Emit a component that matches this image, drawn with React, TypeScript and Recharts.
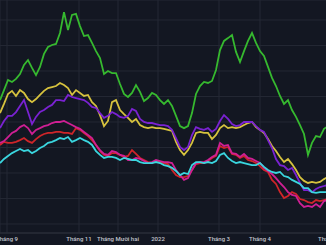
import React from "react";
import { LineChart, Line, XAxis, YAxis, CartesianGrid } from "recharts";

// sample positions (each step ≈ 2.3 trading days), Sept 2021 – May 2022
const monthTicks = [1.75, 19.75, 29.5, 39.5, 54.75, 65, 82.25];
const monthLabels = ["Tháng 9", "Tháng 11", "Tháng Mười hai", "2022", "Tháng 3", "Tháng 4", "Tháng 5"];
const valueTicks = [0, 10, 20, 30, 40, 50, 60, 70, 80];

const green = [48.6, 52.5, 56.5, 55.7, 56.9, 58.8, 62.4, 64.3, 61.2, 58.4, 61.6, 66.7, 69.4, 70.2, 70.6, 74.9, 83.1, 76.1, 82.0, 82.4, 77.6, 73.7, 74.1, 71.0, 67.8, 65.1, 58.8, 60.0, 59.2, 59.2, 54.9, 51.0, 49.8, 51.4, 54.5, 51.8, 48.2, 49.4, 51.4, 50.6, 48.6, 47.1, 48.6, 46.3, 42.4, 38.4, 37.6, 38.4, 43.5, 51.0, 54.1, 55.7, 55.3, 56.1, 60.4, 68.2, 71.8, 72.9, 74.1, 67.5, 63.5, 67.8, 71.8, 74.9, 71.0, 67.8, 65.9, 61.6, 57.3, 54.1, 50.2, 47.1, 48.6, 44.7, 42.0, 38.8, 35.3, 27.1, 31.8, 34.5, 34.1, 37.3, 38.4];
const yellow = [43.5, 47.1, 51.0, 52.2, 50.2, 52.5, 51.4, 49.0, 47.8, 49.0, 50.6, 52.2, 53.3, 53.7, 54.1, 55.3, 54.5, 53.3, 50.6, 52.5, 51.4, 50.2, 50.6, 47.8, 46.3, 42.7, 38.4, 40.4, 47.8, 48.6, 44.7, 43.1, 41.6, 40.0, 41.2, 38.8, 38.0, 37.6, 38.0, 37.6, 37.6, 37.3, 36.9, 36.5, 32.2, 29.0, 27.1, 29.0, 31.8, 35.7, 36.1, 35.7, 35.7, 33.3, 34.9, 37.6, 38.8, 37.6, 38.0, 37.6, 38.0, 38.8, 39.6, 40.0, 38.0, 36.9, 35.7, 33.3, 30.6, 28.6, 26.3, 24.3, 25.5, 23.5, 21.2, 18.4, 16.9, 16.1, 16.5, 16.1, 16.5, 17.6, 18.4];
const purple = [37.6, 40.4, 42.4, 42.4, 43.9, 46.3, 48.6, 43.9, 39.2, 42.0, 43.9, 44.7, 45.9, 46.7, 48.6, 48.6, 48.2, 50.6, 49.8, 49.4, 49.0, 48.6, 47.5, 45.9, 45.5, 43.5, 41.6, 42.4, 43.9, 43.1, 42.0, 41.6, 42.4, 45.1, 44.3, 41.2, 40.0, 39.6, 39.6, 39.2, 38.8, 38.8, 38.4, 36.9, 33.7, 30.2, 29.0, 30.2, 34.9, 38.0, 37.3, 36.9, 37.6, 36.1, 37.3, 40.4, 42.7, 41.2, 39.2, 38.4, 38.8, 40.0, 40.0, 40.0, 38.4, 36.9, 36.1, 32.9, 29.8, 25.5, 23.1, 22.7, 21.2, 22.0, 19.2, 16.1, 13.3, 13.3, 12.5, 13.7, 14.5, 14.9, 15.3];
const red = [31.0, 32.2, 31.8, 31.8, 32.2, 32.9, 33.7, 32.5, 31.8, 33.3, 34.5, 35.3, 35.7, 35.7, 36.1, 36.1, 35.7, 35.7, 35.3, 37.6, 36.9, 35.7, 34.5, 32.9, 31.0, 28.6, 27.1, 26.7, 27.8, 27.8, 27.1, 26.3, 26.7, 29.0, 27.5, 25.9, 25.1, 24.3, 23.9, 24.7, 24.3, 23.9, 23.5, 21.2, 19.2, 18.4, 18.4, 18.8, 21.2, 23.5, 23.9, 23.9, 24.7, 25.9, 26.7, 30.6, 29.8, 30.2, 27.5, 27.1, 25.9, 26.7, 25.1, 24.7, 23.9, 22.7, 21.2, 20.4, 17.3, 15.7, 12.5, 10.2, 11.0, 12.5, 11.8, 9.8, 9.4, 8.6, 8.2, 9.4, 9.0, 9.4, 9.8];
const magenta = [31.8, 32.5, 34.1, 35.7, 36.5, 38.0, 38.8, 37.6, 35.3, 36.9, 37.6, 38.4, 38.8, 39.6, 40.0, 40.0, 40.4, 39.6, 38.8, 38.0, 37.3, 36.1, 34.9, 33.7, 31.0, 29.0, 27.5, 27.1, 28.6, 28.2, 27.1, 26.7, 25.1, 25.1, 25.9, 25.5, 24.7, 23.9, 24.3, 25.1, 24.7, 24.3, 24.3, 23.9, 21.2, 19.2, 17.3, 18.0, 21.2, 23.9, 24.3, 24.3, 25.1, 26.3, 27.1, 31.8, 30.6, 31.0, 27.8, 27.5, 26.3, 27.5, 25.9, 25.5, 24.7, 23.9, 22.0, 20.8, 19.6, 18.0, 16.1, 14.5, 12.5, 11.4, 11.0, 8.2, 6.7, 7.1, 6.7, 7.8, 6.7, 9.0, 9.4];
const cyan = [23.9, 25.5, 26.7, 27.8, 28.6, 29.4, 28.6, 29.0, 27.8, 28.6, 29.8, 30.6, 31.8, 32.2, 32.9, 33.7, 33.3, 34.1, 32.2, 32.9, 33.7, 32.9, 32.2, 31.0, 28.6, 27.1, 25.9, 26.3, 26.3, 25.9, 25.1, 25.9, 25.5, 25.1, 25.1, 24.3, 23.9, 23.9, 23.9, 24.3, 23.9, 23.1, 22.7, 22.0, 20.8, 19.2, 20.0, 19.6, 23.1, 24.3, 24.3, 23.9, 24.3, 23.9, 24.7, 27.1, 27.8, 25.9, 24.7, 23.9, 24.3, 23.9, 23.5, 23.1, 23.1, 23.9, 22.4, 21.2, 20.4, 20.0, 20.4, 18.8, 18.4, 17.3, 16.5, 15.7, 14.1, 14.1, 12.5, 12.2, 12.5, 12.5, 12.5];

const data = green.map((g, i) => ({
  i,
  green: g,
  yellow: yellow[i],
  purple: purple[i],
  red: red[i],
  magenta: magenta[i],
  cyan: cyan[i],
}));

const series = [
  { key: "green", color: "#36b92f" },
  { key: "yellow", color: "#d6c23e" },
  { key: "purple", color: "#7a22d2" },
  { key: "red", color: "#cf2529" },
  { key: "magenta", color: "#cf1f94" },
  { key: "cyan", color: "#3ad6df" },
];

const labelFor = (v: number) => {
  const k = monthTicks.indexOf(v);
  return k >= 0 ? monthLabels[k] : "";
};

export default function App() {
  return (
    <div
      style={{
        position: "fixed",
        top: 0,
        left: 0,
        width: 326,
        height: 245,
        overflow: "hidden",
        background: "#131722",
      }}
    >
      <LineChart
        width={346}
        height={245}
        data={data}
        margin={{ top: 0, right: 0, bottom: 0, left: 0 }}
        style={{ fontFamily: "Roboto, sans-serif" }}
      >
        <CartesianGrid stroke="#242834" strokeWidth={1} />
        <XAxis
          dataKey="i"
          type="number"
          domain={[0, 86.5]}
          ticks={monthTicks}
          tickFormatter={labelFor}
          interval={0}
          height={12}
          tickLine={false}
          tickSize={0}
          tickMargin={4}
          axisLine={{ stroke: "#2c303b" }}
          tick={{ fontSize: 6, fill: "#c3c6ce", fontWeight: 500 }}
          allowDataOverflow
        />
        <YAxis hide domain={[-3.53, 87.84]} ticks={valueTicks} allowDataOverflow />
        {series.map((s) => (
          <Line
            key={s.key}
            dataKey={s.key}
            stroke={s.color}
            strokeWidth={1.8}
            dot={false}
            activeDot={false}
            type="linear"
            isAnimationActive={false}
          />
        ))}
      </LineChart>
    </div>
  );
}
